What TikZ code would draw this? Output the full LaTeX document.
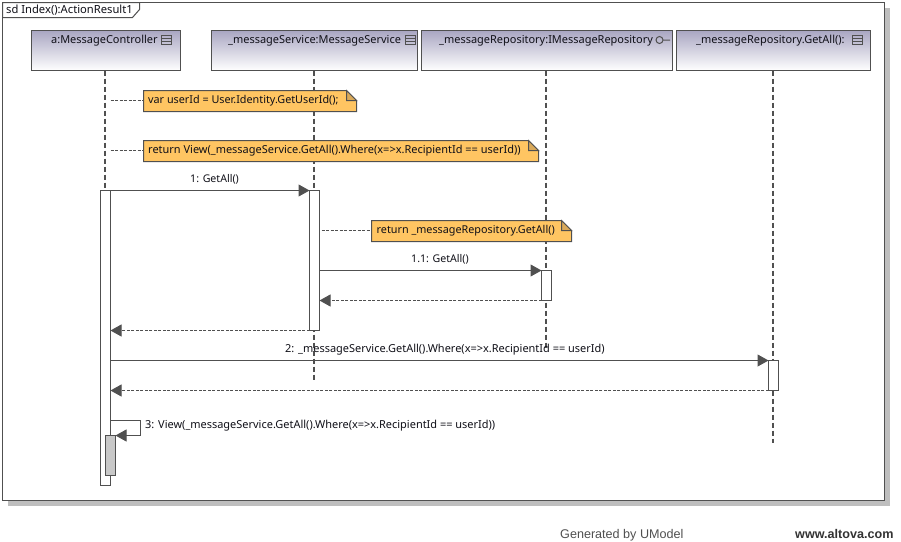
\documentclass[tikz,border=0pt]{standalone}
\usepackage{fontspec}
\setmainfont{Noto Sans}
\newfontfamily\footfont{Liberation Sans}
\usetikzlibrary{arrows.meta,calc}
\definecolor{ln}{HTML}{505050}
\definecolor{notefill}{HTML}{FFC562}
\definecolor{notefold}{HTML}{D9A95A}
\definecolor{headtop}{HTML}{A9A6C2}
\definecolor{shadowgray}{HTML}{BEBEBE}
\definecolor{txt}{HTML}{101018}
\tikzset{
  box/.style={draw=ln,line width=1pt,anchor=north west,inner sep=0pt,outer sep=0pt},
  head/.style={box,top color=headtop,bottom color=white},
  activation/.style={box,fill=white,minimum width=10pt},
  lifeline/.style={draw=ln,line width=2pt,dash pattern=on 5pt off 3pt},
  label/.style={anchor=base west,inner sep=0pt,text=txt,font=\fontsize{10.97}{12}\selectfont},
  shortlabel/.style={label,font=\fontsize{10.6}{12}\selectfont},
  notelabel/.style={label,font=\fontsize{10.8}{12}\selectfont},
  msg/.style={draw=ln,line width=1pt,-{Triangle[length=11pt,width=12pt,fill=ln]}},
  ret/.style={draw=ln,line width=1pt,-{Triangle[length=11pt,width=12pt,fill=ln]},dash pattern=on 3pt off 1.5pt},
  link/.style={draw=ln,line width=1pt,dash pattern=on 3pt off 1.5pt},
  note/.style={draw=ln,line width=1pt,fill=notefill},
  fold/.style={draw=ln,line width=1pt,fill=notefold},
  iconline/.style={draw=ln,line width=1pt}
}
\newcommand{\headnode}[5]{\node[head,minimum width=#4pt,minimum height=40pt] (#1) at (#2,30) {};\node[label] (#1t) at (#3,42.5) {#5};}
\newcommand{\noteshape}[5]{%
  \path (#2,#3) coordinate (#1nw) (#4,#3) coordinate (#1ne) (#4,#5) coordinate (#1se) (#2,#5) coordinate (#1sw) ($(#4,#3)+(0,10)$) coordinate (#1f);
  \draw[note] (#2,#3) -- ($(#4,#3)+(-10,0)$) -- (#4,{#3+10}) -- (#4,#5) -- (#2,#5) -- cycle;
  \draw[fold] ($(#4,#3)+(-10,0)$) -- ({#4-10},{#3+10}) -- (#4,{#3+10}) -- cycle;}
\newcommand{\icon}[2]{\draw[iconline] (#1,#2) rectangle ({#1+10},{#2+9}) (#1,{#2+3}) -- ({#1+10},{#2+3}) (#1,{#2+6}) -- ({#1+10},{#2+6});}
\begin{document}
\begin{tikzpicture}[x=1pt,y=-1pt,shift={(0.5,0.5)}]
\useasboundingbox (-0.5,-0.5) rectangle (900.5,540.5);
\fill[white] (-0.5,-0.5) rectangle (900.5,540.5);
% frame
\fill[shadowgray] (7,7) rectangle (889.5,505);
\node[box,fill=white,minimum width=882pt,minimum height=498pt] (frame) at (2,2) {};
\draw[ln,line width=1pt,fill=white] (2,2) -- (139,2) -- (139,9) -- (132,17) -- (2,17) -- cycle;
\node[label,font=\fontsize{11.2}{12}\selectfont] (title) at (5.5,13) {sd Index():ActionResult1};
% heads
\headnode{hA}{31}{50.5}{149}{a:MessageController}
\headnode{hS}{211}{227.5}{206}{\_messageService:MessageService}
\headnode{hR}{421}{438.5}{251}{\_messageRepository:IMessageRepository}
\headnode{hG}{676}{695.5}{194}{\_messageRepository.GetAll():}
\icon{161}{35}
\icon{405}{35}
\icon{852}{35}
\draw[iconline] (659,39.5) circle (3.5) (662.5,39.5) -- (669.5,39.5);
% lifeline ends
\coordinate (eA) at (104.5,190);
\coordinate (eS) at (313.5,379);
\coordinate (eR) at (545.5,348);
\coordinate (eG) at (772.5,442);
\draw[lifeline] (hA.south -| eA) -- (eA);
\draw[lifeline] (hS.south -| eS) -- (eS);
\draw[lifeline] (hR.south -| eR) -- (eR);
\draw[lifeline] (hG.south -| eG) -- (eG);
% activations
\node[activation,minimum height=295pt] (aA) at (100,190) {};
\node[activation,minimum height=140pt] (aS) at (309,190) {};
\node[activation,minimum height=30pt] (aR) at (541,270) {};
\node[activation,minimum height=30pt] (aG) at (768,360) {};
\node[activation,fill=shadowgray!85!white,minimum height=40pt] (aN) at (105,435) {};
% notes
\noteshape{nA}{143}{90}{356}{111}
\noteshape{nB}{143}{140}{538}{161}
\noteshape{nC}{371}{220}{571}{241}
\node[notelabel] (tA) at (147.5,103) {var userId = User.Identity.GetUserId();};
\node[label] (tB) at (147.5,153) {return View(\_messageService.GetAll().Where(x=>x.RecipientId == userId))};
\node[notelabel] (tC) at (376,233) {return \_messageRepository.GetAll()};
\coordinate (lA) at (110,100);
\coordinate (lB) at (110,150);
\coordinate (lC) at (321,230);
\draw[link] (lA) -- (lA -| nAnw);
\draw[link] (lB) -- (lB -| nBnw);
\draw[link] (lC) -- (lC -| nCnw);
% messages
\draw[msg] (aA.north east) -- (aS.north west);
\node[shortlabel] (m1) at (189.5,181.5) {1: GetAll()};
\draw[msg] (aS.east |- aR.north) -- (aR.north west);
\node[shortlabel] (m2) at (410.5,261.5) {1.1: GetAll()};
\draw[ret] (aR.south west) -- (aS.east |- aR.south);
\draw[ret] (aS.south west) -- (aA.east |- aS.south);
\draw[msg] (aA.east |- aG.north) -- (aG.north west);
\node[label] (m3) at (284.5,351.5) {2: \_messageService.GetAll().Where(x=>x.RecipientId == userId)};
\draw[ret] (aG.south west) -- (aA.east |- aG.south);
\coordinate (sA) at (140,420);
\draw[msg] (aA.east |- sA) -- (sA) -- (sA |- aN.north) -- (aN.north east);
\node[label] (m4) at (144.5,428) {3: View(\_messageService.GetAll().Where(x=>x.RecipientId == userId))};
% footer
\node[anchor=base west,inner sep=0pt,text=ln,font=\footfont\fontsize{12.6}{14}\selectfont] (g1) at (559.5,537.5) {Generated by UModel};
\node[anchor=base west,inner sep=0pt,text=black!80,font=\footfont\bfseries\fontsize{12.6}{14}\selectfont] (g2) at (794.5,537.5) {www.altova.com};
\end{tikzpicture}
\end{document}
